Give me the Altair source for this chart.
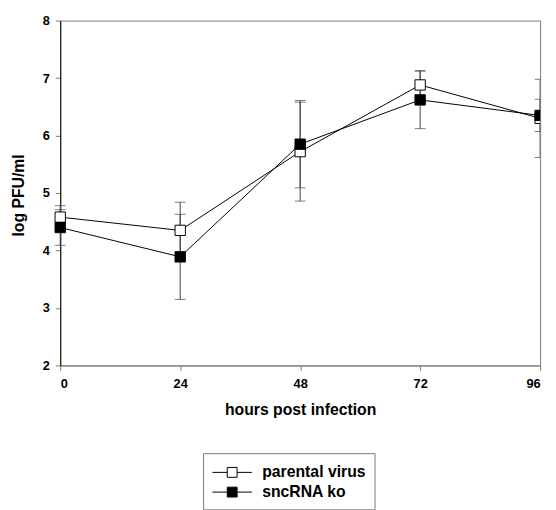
import altair as alt
import pandas as pd

hours = [0, 24, 48, 72, 96]
parental = [4.58, 4.35, 5.72, 6.88, 6.30]
parental_err = [0.20, 0.49, 0.86, 0.25, 0.68]
sncrna = [4.40, 3.89, 5.85, 6.62, 6.35]
sncrna_err = [0.31, 0.74, 0.76, 0.50, 0.28]
series_names = ["parental virus", "sncRNA ko"]
series_fill = ["white", "black"]
x_ticks = [0, 24, 48, 72, 96]
y_ticks = [2, 3, 4, 5, 6, 7, 8]

rows = []
for name, vals, errs in [(series_names[0], parental, parental_err),
                         (series_names[1], sncrna, sncrna_err)]:
    for h, v, e in zip(hours, vals, errs):
        rows.append({"hours": h, "pfu": v, "lo": v - e, "hi": v + e,
                     "series": name, "order": series_names.index(name)})
df = pd.DataFrame(rows)

FONT = "Liberation Sans"
GRAY = "#7a7a7a"

xs = alt.Scale(domain=[0, 96], nice=False, zero=False)
ys = alt.Scale(domain=[2, 8], nice=False, zero=False)

x_enc = alt.X("hours:Q", scale=xs, axis=alt.Axis(
    values=x_ticks, title="hours post infection", grid=False, format="d",
    domainColor=GRAY, tickColor=GRAY, tickSize=5, labelPadding=7,
    labelFont=FONT, labelFontSize=13, labelFontWeight="bold", labelColor="black",
    titleFont=FONT, titleFontSize=16, titleFontWeight="bold", titleColor="black",
    titlePadding=12))
y_enc = alt.Y("pfu:Q", scale=ys, axis=alt.Axis(
    values=y_ticks, title="log PFU/ml", grid=False, format="d",
    domainColor="black", tickColor=GRAY, tickSize=5, labelPadding=6,
    labelFont=FONT, labelFontSize=13, labelFontWeight="bold", labelColor="black",
    titleFont=FONT, titleFontSize=16, titleFontWeight="bold", titleColor="black",
    titleX=-34, titleY=177))

legend_path = "M-1,0H0.5M1.5,0H3M0.5,-0.5H1.5V0.5H0.5Z"
fill_enc = alt.Fill("series:N", scale=alt.Scale(domain=series_names, range=series_fill),
                    legend=alt.Legend(
                        title=None, orient="none", legendX=145, legendY=439,
                        symbolType=legend_path, symbolSize=400,
                        symbolStrokeColor="black", symbolStrokeWidth=1, symbolOpacity=1,
                        labelFont=FONT, labelFontSize=16, labelFontWeight="bold",
                        labelColor="black", labelOffset=30, padding=9, rowPadding=1,
                        strokeColor=GRAY, fillColor="white", cornerRadius=0))

base = alt.Chart(df)

def errbars(data, clip):
    r = data.mark_rule(color="#444", strokeWidth=1, clip=clip).encode(
        x=alt.X("hours:Q", scale=xs), y=alt.Y("lo:Q", scale=ys), y2="hi:Q")
    t1 = data.mark_tick(orient="horizontal", size=11, thickness=1, color="#444", clip=clip).encode(
        x=alt.X("hours:Q", scale=xs), y=alt.Y("hi:Q", scale=ys))
    t2 = data.mark_tick(orient="horizontal", size=11, thickness=1, color="#444", clip=clip).encode(
        x=alt.X("hours:Q", scale=xs), y=alt.Y("lo:Q", scale=ys))
    return [r, t1, t2]

main = base.transform_filter("datum.hours < 96")
end = base.transform_filter("datum.hours >= 96")

lines = base.mark_line(color="black", strokeWidth=1).encode(
    x=x_enc, y=y_enc, detail="series:N")

def markers(data, name, clip):
    return data.transform_filter(alt.datum.series == name).mark_point(
        shape="square", size=110, filled=True, opacity=1, stroke="black",
        strokeWidth=1, clip=clip).encode(
        x=alt.X("hours:Q", scale=xs), y=alt.Y("pfu:Q", scale=ys), fill=fill_enc)

layers = [lines] + errbars(main, False) + errbars(end, True)
for nm in series_names:
    layers.append(markers(main, nm, False))
    layers.append(markers(end, nm, True))

chart = alt.layer(*layers).properties(
    width=487, height=350,
    autosize=alt.AutoSizeParams(type="none"),
    padding={"left": 53, "top": 9, "right": 8, "bottom": 150},
).configure_view(stroke=GRAY, strokeWidth=1)

chart.save("out.html", embed_options={"renderer": "svg", "actions": False})
